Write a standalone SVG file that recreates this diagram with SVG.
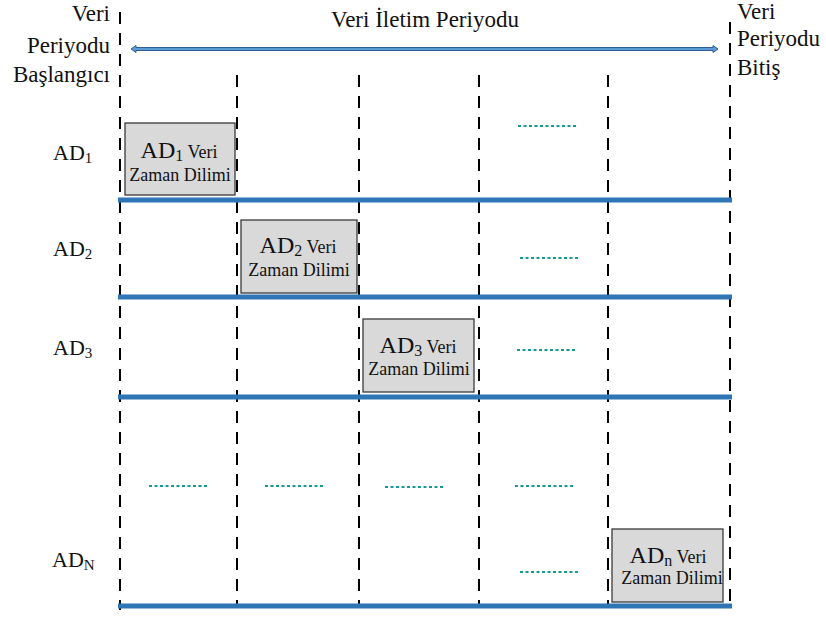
<svg xmlns="http://www.w3.org/2000/svg" width="826" height="617" viewBox="0 0 826 617" font-family="Liberation Serif, Times New Roman, DejaVu Serif, serif">
  <style>
    .lbl { font-size: 23px; }
    .big { font-size: 22px; }
    .sub { font-size: 15px; }
    .bigb { font-size: 24px; }
    .subb { font-size: 16px; }
    .sm { font-size: 18px; }
    .zd { font-size: 18px; }
    .vdash { stroke: #000; stroke-width: 2; stroke-dasharray: 12 9; fill: none; }
    .lane { stroke: #2e75b6; stroke-width: 5; fill: none; }
    .dots { stroke: #17999a; stroke-width: 2; stroke-dasharray: 3 2.5; fill: none; }
    .slot { fill: #d9d9d9; stroke: #3a3a3a; stroke-width: 1.3; }
  </style>

  <rect width="826" height="617" fill="#fff"/>

  <!-- period labels -->
  <g id="start-label" class="lbl" fill="#111">
    <text x="110" y="21" text-anchor="end">Veri</text>
    <text x="110" y="53" text-anchor="end">Periyodu</text>
    <text x="110" y="82" text-anchor="end">Başlangıcı</text>
  </g>
  <g id="end-label" class="lbl" fill="#111">
    <text x="737" y="19">Veri</text>
    <text x="737" y="46">Periyodu</text>
    <text x="737" y="75">Bitiş</text>
  </g>
  <g id="title" fill="#111">
    <text x="425" y="27" class="lbl" text-anchor="middle">Veri İletim Periyodu</text>
  </g>

  <!-- transmission period arrow -->
  <g id="period-arrow">
    <path d="M131,49 L136,45.5 L136,47.5 L713,47.5 L713,45.5 L718,49 L713,52.5 L713,50.5 L136,50.5 L136,52.5 Z" fill="#5b9bd5" stroke="#2f5f94" stroke-width="1"/>
  </g>

  <!-- time grid -->
  <g id="connectors">
    <line class="vdash" x1="120" y1="12" x2="120" y2="610"/>
    <line class="vdash" x1="237" y1="75" x2="237" y2="608"/>
    <line class="vdash" x1="359" y1="75" x2="359" y2="608"/>
    <line class="vdash" x1="479" y1="75" x2="479" y2="608"/>
    <line class="vdash" x1="608" y1="75" x2="608" y2="608"/>
    <line class="vdash" x1="730" y1="22" x2="730" y2="608"/>

    <line class="lane" x1="118" y1="200" x2="732" y2="200"/>
    <line class="lane" x1="118" y1="297" x2="732" y2="297"/>
    <line class="lane" x1="118" y1="397" x2="732" y2="397"/>
    <line class="lane" x1="118" y1="606" x2="732" y2="606"/>

    <line class="dots" x1="518" y1="126" x2="577" y2="126"/>
    <line class="dots" x1="520" y1="258" x2="578" y2="258"/>
    <line class="dots" x1="517" y1="350" x2="575" y2="350"/>
    <line class="dots" x1="149" y1="486" x2="207" y2="486"/>
    <line class="dots" x1="265" y1="486" x2="323" y2="486"/>
    <line class="dots" x1="385" y1="487" x2="443" y2="487"/>
    <line class="dots" x1="515" y1="486" x2="573" y2="486"/>
    <line class="dots" x1="520" y1="572" x2="578" y2="572"/>
  </g>

  <!-- node labels -->
  <g id="ad1-label" fill="#111"><text x="53" y="160" class="big">AD<tspan class="sub" dy="3">1</tspan></text></g>
  <g id="ad2-label" fill="#111"><text x="53" y="256" class="big">AD<tspan class="sub" dy="3">2</tspan></text></g>
  <g id="ad3-label" fill="#111"><text x="53" y="355" class="big">AD<tspan class="sub" dy="3">3</tspan></text></g>
  <g id="adn-label" fill="#111"><text x="52" y="567" class="big">AD<tspan class="sub" dy="3">N</tspan></text></g>

  <!-- data time slots -->
  <g id="slot-ad1" fill="#111">
    <rect class="slot" x="125" y="123" width="110" height="72"/>
    <text x="179" y="158" text-anchor="middle"><tspan class="bigb">AD</tspan><tspan class="subb" dy="3">1</tspan><tspan class="sm" dy="-3"> Veri</tspan></text>
    <text x="180" y="181" class="zd" text-anchor="middle">Zaman Dilimi</text>
  </g>
  <g id="slot-ad2" fill="#111">
    <rect class="slot" x="241" y="220" width="116" height="73"/>
    <text x="298" y="253" text-anchor="middle"><tspan class="bigb">AD</tspan><tspan class="subb" dy="3">2</tspan><tspan class="sm" dy="-3"> Veri</tspan></text>
    <text x="299" y="276" class="zd" text-anchor="middle">Zaman Dilimi</text>
  </g>
  <g id="slot-ad3" fill="#111">
    <rect class="slot" x="363" y="319" width="111" height="73"/>
    <text x="418" y="353" text-anchor="middle"><tspan class="bigb">AD</tspan><tspan class="subb" dy="3">3</tspan><tspan class="sm" dy="-3"> Veri</tspan></text>
    <text x="419" y="375" class="zd" text-anchor="middle">Zaman Dilimi</text>
  </g>
  <g id="slot-adn" fill="#111">
    <rect class="slot" x="612" y="529" width="111" height="73"/>
    <text x="668" y="563" text-anchor="middle"><tspan class="bigb">AD</tspan><tspan class="subb" dy="3">n</tspan><tspan class="sm" dy="-3"> Veri</tspan></text>
    <text x="672" y="584" class="zd" text-anchor="middle">Zaman Dilimi</text>
  </g>
</svg>
